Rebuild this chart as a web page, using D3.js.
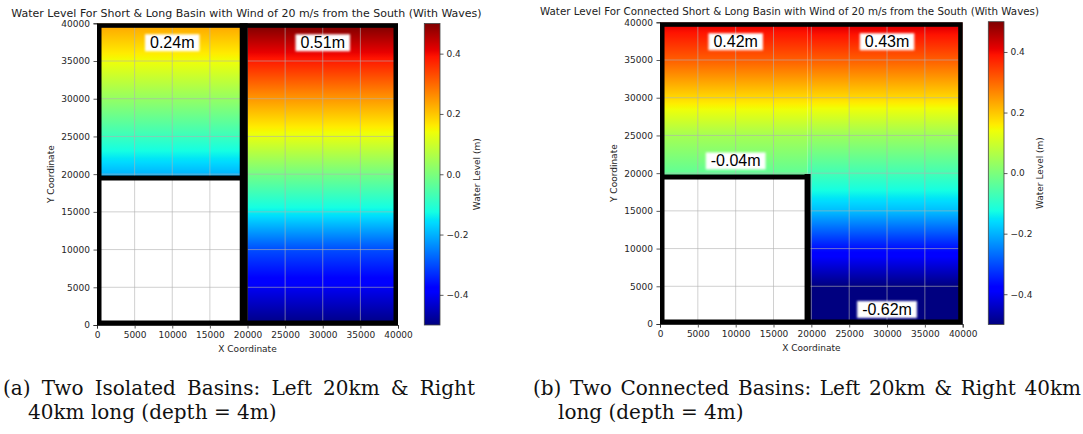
<!DOCTYPE html>
<html>
<head>
<meta charset="utf-8">
<script src="https://cdn.jsdelivr.net/npm/d3@7"></script>
<style>
  html, body { margin: 0; padding: 0; background: #fff; }
  svg { display: block; }
</style>
</head>
<body>
<svg id="fig" width="1083" height="434"></svg>
<script>
// ---------------------------------------------------------------
// Water level profiles (m) sampled along the Y direction (m)
// ---------------------------------------------------------------
const yFull  = [0, 5000, 10000, 15000, 20000, 25000, 30000, 35000, 40000];
const yUpper = [19500, 25000, 30000, 35000, 40000];

// (a) two isolated basins
const isoShortLevel = [-0.21, -0.08, 0.03, 0.14, 0.24];
const isoLongLevel  = [-0.50, -0.40, -0.30, -0.14, -0.01, 0.13, 0.25, 0.38, 0.51];

// (b) two connected basins
const conShortLevel = [-0.04, 0.05, 0.18, 0.31, 0.42];
const conLongLevel  = [-0.62, -0.50, -0.36, -0.19, -0.07, 0.04, 0.18, 0.31, 0.43];

// annotation anchors (data coordinates)
const isoLabelX = [10000, 30000];
const isoLabelY = [37500, 37500];
const conLabelX = [10000, 30000, 10000, 30000];
const conLabelY = [37500, 37500, 21700, 2000];

// axes / colour bar ticks
const axisTicks   = [0, 5000, 10000, 15000, 20000, 25000, 30000, 35000, 40000];
const colorTicks  = [-0.4, -0.2, 0.0, 0.2, 0.4];
const levelRange  = [-0.5, 0.5];
const domainMax   = 40000;
const wallPos     = 19500;

const titleA = "Water Level For Short & Long Basin with Wind of 20 m/s from the South (With Waves)";
const titleB = "Water Level For Connected Short & Long Basin with Wind of 20 m/s from the South (With Waves)";
const captionA = ["(a) Two Isolated Basins:  Left 20km & Right", "40km long (depth = 4m)"];
const captionB = ["(b) Two Connected Basins: Left 20km & Right 40km", "long (depth = 4m)"];

// ---------------------------------------------------------------
// "jet" colour map (piecewise-linear channels)
// ---------------------------------------------------------------
const jetR = [[0, 0], [0.35, 0], [0.66, 1], [0.89, 1], [1, 0.5]];
const jetG = [[0, 0], [0.125, 0], [0.375, 1], [0.64, 1], [0.91, 0], [1, 0]];
const jetB = [[0, 0.5], [0.11, 1], [0.34, 1], [0.65, 0], [1, 0]];
const jetKnots = [0, 0.11, 0.125, 0.34, 0.35, 0.375, 0.64, 0.65, 0.66, 0.89, 0.91, 1];

function channel(pts, t) {
  for (let i = 0; i < pts.length - 1; i++) {
    const [t0, v0] = pts[i], [t1, v1] = pts[i + 1];
    if (t <= t1) return v0 + (v1 - v0) * (t - t0) / (t1 - t0);
  }
  return pts[pts.length - 1][1];
}
function jet(t) {
  t = Math.max(0, Math.min(1, t));
  return d3.rgb(255 * channel(jetR, t), 255 * channel(jetG, t), 255 * channel(jetB, t)).formatHex();
}
const norm = d3.scaleLinear().domain(levelRange).range([0, 1]).clamp(true);
const levelColor = v => jet(norm(v));
const knotLevels = jetKnots.map(t => norm.invert(t));

// ---------------------------------------------------------------
const svg = d3.select("#fig");
const defs = svg.append("defs");
defs.append("filter").attr("id", "soft")
  .attr("x", "-20%").attr("y", "-30%").attr("width", "140%").attr("height", "160%")
  .append("feGaussianBlur").attr("stdDeviation", 0.8);

let gradId = 0;
// vertical gradient following a sampled profile, with extra stops where the colour map bends
function profileGradient(ys, ysScale, vs) {
  const pts = [];
  for (let i = 0; i < ys.length; i++) {
    pts.push([ys[i], vs[i]]);
    if (i < ys.length - 1) {
      const a = vs[i], b = vs[i + 1];
      knotLevels.forEach(k => {
        if ((k - a) * (k - b) < 0) {
          pts.push([ys[i] + (k - a) / (b - a) * (ys[i + 1] - ys[i]), k]);
        }
      });
    }
  }
  pts.sort((p, q) => p[0] - q[0]);
  const y0 = ys[0], y1 = ys[ys.length - 1];
  const id = "grad" + (gradId++);
  const g = defs.append("linearGradient").attr("id", id)
    .attr("gradientUnits", "userSpaceOnUse")
    .attr("x1", 0).attr("x2", 0)
    .attr("y1", ysScale(y0)).attr("y2", ysScale(y1));
  pts.forEach(p => {
    g.append("stop").attr("offset", (p[0] - y0) / (y1 - y0)).attr("stop-color", levelColor(p[1]));
  });
  return "url(#" + id + ")";
}

function drawPanel(cfg) {
  const xs = d3.scaleLinear().domain([0, domainMax]).range([cfg.x0, cfg.x1]);
  const ys = d3.scaleLinear().domain([0, domainMax]).range([cfg.yB, cfg.yT]);
  const g = svg.append("g");

  const clipId = "clip-" + cfg.id;
  defs.append("clipPath").attr("id", clipId).append("rect")
    .attr("x", cfg.x0).attr("y", cfg.yT)
    .attr("width", cfg.x1 - cfg.x0).attr("height", cfg.yB - cfg.yT);

  const plot = g.append("g").attr("clip-path", "url(#" + clipId + ")");

  // water level fields
  cfg.sections.forEach(s => {
    plot.append("rect")
      .attr("x", xs(s.x[0])).attr("y", ys(s.y[1]))
      .attr("width", xs(s.x[1]) - xs(s.x[0]))
      .attr("height", ys(s.y[0]) - ys(s.y[1]))
      .attr("fill", profileGradient(s.ys, ys, s.levels));
  });

  // grid
  plot.append("g").selectAll("line").data(axisTicks).join("line")
    .attr("x1", d => xs(d)).attr("x2", d => xs(d))
    .attr("y1", cfg.yT).attr("y2", cfg.yB)
    .attr("stroke", "#b0b0b0").attr("stroke-opacity", 0.6).attr("stroke-width", 1);
  plot.append("g").selectAll("line").data(axisTicks).join("line")
    .attr("y1", d => ys(d)).attr("y2", d => ys(d))
    .attr("x1", cfg.x0).attr("x2", cfg.x1)
    .attr("stroke", "#b0b0b0").attr("stroke-opacity", 0.6).attr("stroke-width", 1);

  // basin walls
  cfg.walls.forEach(w => {
    plot.append("line")
      .attr("x1", xs(w.p[0])).attr("y1", ys(w.p[1]))
      .attr("x2", xs(w.p[2])).attr("y2", ys(w.p[3]))
      .attr("stroke", "#000").attr("stroke-width", w.w)
      .attr("stroke-linecap", "square");
  });
  plot.append("rect")
    .attr("x", cfg.x0).attr("y", cfg.yT)
    .attr("width", cfg.x1 - cfg.x0).attr("height", cfg.yB - cfg.yT)
    .attr("fill", "none").attr("stroke", "#000").attr("stroke-width", 9);

  // axes
  const fmt = d3.format("d");
  const xAxis = g.append("g").attr("transform", `translate(0,${cfg.yB})`)
    .call(d3.axisBottom(xs).tickValues(axisTicks).tickFormat(fmt).tickSize(3.5).tickPadding(3));
  const yAxis = g.append("g").attr("transform", `translate(${cfg.x0},0)`)
    .call(d3.axisLeft(ys).tickValues(axisTicks).tickFormat(fmt).tickSize(3.5).tickPadding(3.5));
  [xAxis, yAxis].forEach(a => {
    a.select(".domain").attr("stroke", "#000").attr("stroke-width", 0.8);
    a.selectAll(".tick line").attr("stroke", "#333").attr("stroke-width", 0.8);
    a.selectAll(".tick text").attr("font-family", "DejaVu Sans").attr("font-size", 9).attr("fill", "#262626");
  });

  g.append("text").attr("x", (cfg.x0 + cfg.x1) / 2).attr("y", cfg.yB + 27)
    .attr("text-anchor", "middle").attr("font-family", "DejaVu Sans").attr("font-size", 9)
    .attr("fill", "#262626").text("X Coordinate");
  g.append("text").attr("transform", `translate(${cfg.ylabX},${(cfg.yT + cfg.yB) / 2}) rotate(-90)`)
    .attr("text-anchor", "middle").attr("dy", "0.35em").attr("font-family", "DejaVu Sans").attr("font-size", 9)
    .attr("fill", "#262626").text("Y Coordinate");

  // title
  g.append("text").attr("x", cfg.titleX).attr("y", cfg.titleY)
    .attr("text-anchor", "middle").attr("font-family", "DejaVu Sans").attr("font-size", cfg.titleSize)
    .attr("fill", "#222").text(cfg.title);

  // value annotations
  cfg.labels.forEach(l => {
    const lg = g.append("g");
    const box = lg.append("rect").attr("fill", "#fff").attr("filter", "url(#soft)");
    const t = lg.append("text")
      .attr("x", xs(l.x)).attr("y", ys(l.y)).attr("dy", "0.35em")
      .attr("text-anchor", "middle").attr("font-family", "Liberation Sans").attr("font-size", 16)
      .attr("fill", "#000").text(l.v.toFixed(2) + "m");
    const bb = t.node().getBBox();
    box.attr("x", bb.x - 5).attr("y", bb.y + 0.5).attr("width", bb.width + 10).attr("height", bb.height);
  });

  // colour bar
  const cs = d3.scaleLinear().domain(levelRange).range([cfg.cbB, cfg.cbT]);
  const cbGrad = "cb-" + cfg.id;
  const lg = defs.append("linearGradient").attr("id", cbGrad)
    .attr("gradientUnits", "userSpaceOnUse").attr("x1", 0).attr("x2", 0)
    .attr("y1", cfg.cbB).attr("y2", cfg.cbT);
  jetKnots.forEach(t => lg.append("stop").attr("offset", t).attr("stop-color", jet(t)));
  g.append("rect").attr("x", cfg.cbX).attr("y", cfg.cbT)
    .attr("width", cfg.cbW).attr("height", cfg.cbB - cfg.cbT)
    .attr("fill", `url(#${cbGrad})`).attr("stroke", "#444").attr("stroke-width", 0.8);
  const cAxis = g.append("g").attr("transform", `translate(${cfg.cbX + cfg.cbW},0)`)
    .call(d3.axisRight(cs).tickValues(colorTicks).tickFormat(d3.format(".1f")).tickSize(3.5).tickPadding(3));
  cAxis.select(".domain").remove();
  cAxis.selectAll(".tick line").attr("stroke", "#333").attr("stroke-width", 0.8);
  cAxis.selectAll(".tick text").attr("font-family", "DejaVu Sans").attr("font-size", 9).attr("fill", "#262626");
  g.append("text").attr("transform", `translate(${cfg.cbLabelX},${(cfg.cbT + cfg.cbB) / 2}) rotate(-90)`)
    .attr("text-anchor", "middle").attr("dy", "0.35em").attr("font-family", "DejaVu Sans").attr("font-size", 9)
    .attr("fill", "#262626").text("Water Level (m)");
}

// ---------------------------------------------------------------
drawPanel({
  id: "a", x0: 97, x1: 398, yT: 23.3, yB: 325,
  cbX: 424.3, cbW: 15.7, cbT: 23.5, cbB: 325, cbLabelX: 477,
  ylabX: 51, title: titleA, titleX: 246.5, titleY: 17, titleSize: 11,
  sections: [
    { x: [0, wallPos], y: [wallPos, domainMax], ys: yUpper, levels: isoShortLevel },
    { x: [wallPos, domainMax], y: [0, domainMax], ys: yFull, levels: isoLongLevel }
  ],
  walls: [
    { p: [wallPos, 0, wallPos, domainMax], w: 8 },
    { p: [0, wallPos, wallPos, wallPos], w: 5 }
  ],
  labels: [
    { x: isoLabelX[0], y: isoLabelY[0], v: d3.max(isoShortLevel) },
    { x: isoLabelX[1], y: isoLabelY[1], v: d3.max(isoLongLevel) }
  ]
});

drawPanel({
  id: "b", x0: 660, x1: 962.7, yT: 22.3, yB: 324,
  cbX: 988.3, cbW: 15.7, cbT: 21.7, cbB: 324.5, cbLabelX: 1040,
  ylabX: 614, title: titleB, titleX: 789.5, titleY: 15, titleSize: 10.3,
  sections: [
    { x: [0, wallPos], y: [wallPos, domainMax], ys: yUpper, levels: conShortLevel },
    { x: [wallPos, domainMax], y: [0, domainMax], ys: yFull, levels: conLongLevel }
  ],
  walls: [
    { p: [wallPos, 0, wallPos, wallPos], w: 6 },
    { p: [0, wallPos, wallPos, wallPos], w: 5 }
  ],
  labels: [
    { x: conLabelX[0], y: conLabelY[0], v: d3.max(conShortLevel) },
    { x: conLabelX[1], y: conLabelY[1], v: d3.max(conLongLevel) },
    { x: conLabelX[2], y: conLabelY[2], v: d3.min(conShortLevel) },
    { x: conLabelX[3], y: conLabelY[3], v: d3.min(conLongLevel) }
  ]
});

// ---------------------------------------------------------------
// sub-figure captions
// ---------------------------------------------------------------
const capFont = { family: "DejaVu Serif", size: 20 };
function justifiedLine(str, x0, x1, y) {
  const words = str.split(/\s+/);
  const t = svg.append("text").attr("y", y)
    .attr("font-family", capFont.family).attr("font-size", capFont.size).attr("fill", "#111");
  const spans = words.map(w => t.append("tspan").text(w));
  const widths = spans.map(s => s.node().getComputedTextLength());
  const gap = (x1 - x0 - d3.sum(widths)) / (words.length - 1);
  let x = x0;
  spans.forEach((s, i) => { s.attr("x", x); x += widths[i] + gap; });
}
function plainLine(str, x0, y) {
  svg.append("text").attr("x", x0).attr("y", y)
    .attr("font-family", capFont.family).attr("font-size", capFont.size).attr("fill", "#111")
    .text(str);
}
justifiedLine(captionA[0], 3, 475, 395);
plainLine(captionA[1], 28, 419);
justifiedLine(captionB[0], 533, 1081, 395);
plainLine(captionB[1], 558, 419);
</script>
</body>
</html>
